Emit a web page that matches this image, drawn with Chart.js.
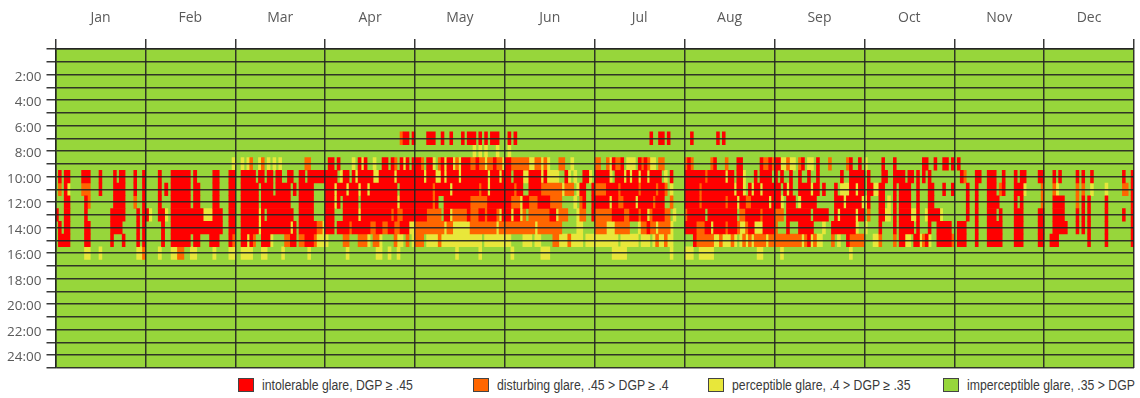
<!DOCTYPE html>
<html>
<head>
<meta charset="utf-8">
<title>Annual glare map</title>
<script src="https://cdn.jsdelivr.net/npm/chart.js@4/dist/chart.umd.min.js"></script>
<style>
  html, body { margin: 0; padding: 0; background: #fff; }
  #wrap { position: relative; width: 1140px; height: 372px; }
  #legend {
    position: relative; display: flex; height: 26px; width: 940px; margin-left: 238px;
    font-family: "Liberation Sans", Arial, sans-serif;
    font-size: 14px; color: #3a3a3a;
  }
  #legend .item { flex: none; width: 235px; display: flex; align-items: center; white-space: nowrap; }
  #legend .box { flex: none; width: 14px; height: 12px; border: 1px solid #444; margin-right: 8px; }
  #legend .text { display: inline-block; transform: scaleX(0.875); transform-origin: left center; }
</style>
</head>
<body>
<div id="wrap"><canvas id="glareChart"></canvas></div>
<div id="legend"></div>
<script>
const months = ["Jan", "Feb", "Mar", "Apr", "May", "Jun", "Jul", "Aug", "Sep", "Oct", "Nov", "Dec"];
const monthDays = [31, 28, 31, 30, 31, 30, 31, 31, 30, 31, 30, 31];

// glare class codes: 3 intolerable, 2 disturbing, 1 perceptible, 0 imperceptible
const classLabels = [
    "imperceptible glare, .35 > DGP",
    "perceptible glare, .4 > DGP \u2265 .35",
    "disturbing glare, .45 > DGP \u2265 .4",
    "intolerable glare, DGP \u2265 .45",
];
const classColors = ["#97d63b", "#e8e73a", "#ff6600", "#ff0000"];
const legendOrder = [3, 2, 1, 0];

// one string per month, one digit per day; missing days are 0
const h06 = ["", "", "",
    "00000 00000 00000 00000 00000 23303",
    "00003 33003 00300 03033 30303 03330 0",
    "03030",
    "00000 00000 00000 00003 00330 3",
    "00300 00000 03030",
    "", "", "", ""];
const h07 = ["", "", "", "",
    "00000 00000 00000 00000 10101 00010",
    "01",
    "", "", "", "", "", ""];
const h08 = ["",
    "00000 00000 00000 00000 00000 001",
    "00101 20012 01010 10000 00002 20000 0",
    "03303 00001 03130 01003 30320 31303",
    "33203 31023 13312 13332 23221 22322 1",
    "33222 22211 22121 00022 00100 00000",
    "22002 13223 01110 32321 10220 00000 0",
    "23200 00002 30002 00033 00000 03223 2",
    "33112 11023 01103 00020 00002 30030",
    "10000 03000 30000 00000 33003 00330 3",
    "03",
    ""];
const h09 = [
    "03033 00003 33000 30000 30330 00300 3",
    "00003 00033 33330 30000 03300 033",
    "00333 33033 03303 30033 00330 33333 3",
    "33330 13303 13333 31133 33313 33333",
    "33313 33113 13333 13333 33333 13331 3",
    "33033 31133 33131 11100 31010 03310",
    "33333 10333 13133 13313 33301 03000 0",
    "33333 33233 33331 33033 10003 03333 0",
    "30300 30030 03003 00000 00300 33333",
    "03000 03300 33330 33030 30300 00000 0",
    "00320 00330 03330 03000 30330 00033",
    "00030 30000 03030 03000 00000 00300 3"];
const h10 = [
    "02031 00002 22000 30000 33330 00300 3",
    "00003 03033 33330 33000 03300 033",
    "00333 33303 33303 33330 30333 33000 0",
    "33313 33133 31331 33333 33330 33333",
    "33333 32333 33133 33333 33233 13333 3",
    "33323 30033 33222 22221 22201 33003",
    "22223 33323 33333 23333 32332 01000 0",
    "33333 23333 33333 33133 10313 31333 3",
    "33031 30033 33133 03000 30111 33133",
    "03311 33000 30333 30030 00330 00300 3",
    "00003 00300 03330 23000 33310 00002",
    "00021 00000 02020 01000 01000 00220 3"];
const h11 = [
    "00033 00000 32000 00000 33330 00200 3",
    "00003 00033 33330 33000 03300 033",
    "00333 33303 33333 33330 00333 33000 0",
    "33313 03333 30333 33333 33331 33333",
    "33333 32300 33333 33332 22222 33333 3",
    "33222 13322 23333 22220 00010 23003",
    "33333 13322 33331 33333 23330 02000 0",
    "33333 23333 33332 33313 32233 33331 3",
    "33103 33013 33330 00000 33313 33331",
    "13000 33010 30333 30030 00330 00000 0",
    "00003 00300 03333 00000 30300 00002",
    "00033 33000 02030 30000 03000 00000 3"];
const h12 = [
    "30033 00000 30000 00003 33330 00030 3",
    "31003 31033 33333 33311 13330 033",
    "00333 33313 03333 33333 00333 33000 0",
    "33300 03333 31333 33333 33232 23333",
    "33332 22220 33122 22232 22332 33321 3",
    "33133 12022 22222 33122 20001 22003",
    "22222 23333 22333 23312 33332 20100 0",
    "23333 33033 33333 33302 23333 32333 3",
    "22203 33333 33033 33300 31333 33133",
    "02000 33110 30333 31130 01333 31000 0",
    "00003 00300 03330 30000 33300 00033",
    "00033 33000 03030 30000 03000 00300 3"];
const h13 = [
    "03033 00000 33000 00003 33300 00030 3",
    "00000 30033 33333 33333 33330 033",
    "00333 33313 33333 33331 30333 33322 1",
    "33303 33323 33333 22332 23322 33311",
    "22222 22222 12211 11112 22222 22212 2",
    "22222 22222 12222 22220 00001 10000",
    "22221 11222 22000 12232 21222 21000 0",
    "33332 22331 33332 33321 12331 11333 3",
    "20003 00033 33300 01003 33333 33100",
    "10000 30000 30333 33030 00300 33333 0",
    "03330 00300 03333 30000 33300 00033",
    "00033 33300 03030 30000 03000 00000 3"];
const h14 = [
    "03333 00000 33000 00003 00030 00030 3",
    "00000 30033 33330 33000 33300 032",
    "00331 32003 33100 00223 30223 33211 1",
    "10000 02200 02221 02210 00021 10201",
    "22201 11121 11111 11111 11101 11111 1",
    "11000 01110 11000 02211 12111 10111",
    "11111 11101 11111 01110 12112 11000 0",
    "00032 22222 11211 12101 21212 22212 2",
    "22222 22221 23121 10002 01003 22222",
    "00011 20000 20331 10331 23100 33333 2",
    "03330 00300 03333 30000 33300 00033",
    "00333 00000 00000 30000 03000 00000 3"];
const h15 = [
    "00000 00000 11000 10000 00000 00011 2",
    "00001 00011 22001 10000 01000 011",
    "00111 10001 10000 01000 00000 10000 0",
    "00000 00100 00000 00110 01001 00000",
    "00000 00000 00001 00000 00100 00000 0",
    "00100 00000 00111 00000 00000 00000",
    "00000 01111 10000 00000 00000 01000 0",
    "11100 11111 00000 00000 00000 11000 0",
    "00100 00000 00000 00000 00000 10000",
    "", "", ""];

const hourRows = { 6: h06, 7: h07, 8: h08, 9: h09, 10: h10, 11: h11, 12: h12, 13: h13, 14: h14, 15: h15 };

// each month gets the same width on the x axis (0..12)
const dayStart = [];
const dayEnd = [];
monthDays.forEach((n, m) => {
    for (let d = 0; d < n; d++) {
        dayStart.push(m + d / n);
        dayEnd.push(m + (d + 1) / n);
    }
});

function dailyClasses(chunks) {
    const out = [];
    monthDays.forEach((n, m) => {
        const s = ((chunks && chunks[m]) || "").replace(/\s/g, "").padEnd(n, "0").slice(0, n);
        for (const ch of s) out.push(Number(ch));
    });
    return out;
}

const datasets = legendOrder.map((c) => ({
    label: classLabels[c],
    backgroundColor: classColors[c],
    borderWidth: 0,
    grouped: false,
    barPercentage: 1,
    categoryPercentage: 1,
    xAxisID: "x",
    yAxisID: "y",
    data: [],
}));
const datasetFor = {};
legendOrder.forEach((c, i) => { datasetFor[c] = datasets[i]; });

// merge runs of equal days into one floating bar per hour row
for (let h = 0; h < 24; h++) {
    const row = dailyClasses(hourRows[h]);
    let i = 0;
    while (i < row.length) {
        let j = i;
        while (j + 1 < row.length && row[j + 1] === row[i]) j++;
        datasetFor[row[i]].data.push({ y: h + 0.5, x: [dayStart[i], dayEnd[j]] });
        i = j + 1;
    }
}

const gridColor = "rgba(35, 35, 35, 0.9)";
const tickFont = { family: "Open Sans", size: 13.5 };

const areaFill = {
    id: "areaFill",
    beforeDatasetsDraw(chart) {
        const { ctx, chartArea: a } = chart;
        ctx.save();
        ctx.fillStyle = classColors[0];
        ctx.fillRect(a.left, a.top, a.right - a.left, a.bottom - a.top);
        ctx.restore();
    },
};

new Chart(document.getElementById("glareChart"), {
    type: "bar",
    data: { datasets: datasets },
    plugins: [areaFill],
    options: {
        indexAxis: "y",
        responsive: true,
        maintainAspectRatio: false,
        animation: false,
        layout: { padding: { top: 0, right: 6, bottom: 4, left: 0 } },
        plugins: { legend: { display: false }, tooltip: { enabled: false } },
        scales: {
            x: {
                type: "linear",
                position: "top",
                min: 0,
                max: 12,
                weight: 0,
                ticks: { display: false, stepSize: 1 },
                grid: { color: gridColor, lineWidth: 1.5, tickLength: 10, z: 1 },
                border: { color: gridColor, width: 1.5, z: 1 },
                afterFit: (s) => { s.paddingLeft = 0; s.paddingRight = 0; },
            },
            months: {
                type: "category",
                labels: months,
                position: "top",
                offset: true,
                weight: 1,
                grid: { display: false },
                border: { display: false },
                ticks: { color: "#5a5a5a", font: { family: "Open Sans", size: 14 }, padding: 5 },
                afterFit: (s) => { s.height = 39; s.paddingLeft = 0; s.paddingRight = 0; },
            },
            y: {
                type: "linear",
                min: 0,
                max: 24,
                reverse: true,
                ticks: {
                    stepSize: 1,
                    autoSkip: false,
                    padding: 5,
                    labelOffset: -4,
                    color: "#5a5a5a",
                    font: tickFont,
                    callback: (v) => (v > 0 && v % 2 === 0 ? v + ":00" : ""),
                },
                grid: { color: gridColor, lineWidth: 1.5, tickLength: 9, z: 1 },
                border: { color: gridColor, width: 1.5, z: 1 },
                afterFit: (s) => { s.width = 55.5; s.paddingTop = 0; s.paddingBottom = 0; },
            },
        },
    },
});

// legend row under the plot
const legend = document.getElementById("legend");
legendOrder.forEach((c) => {
    const item = document.createElement("div");
    item.className = "item";
    const box = document.createElement("span");
    box.className = "box";
    box.style.background = classColors[c];
    const text = document.createElement("span");
    text.className = "text";
    text.textContent = classLabels[c];
    item.appendChild(box);
    item.appendChild(text);
    legend.appendChild(item);
});
</script>
</body>
</html>
